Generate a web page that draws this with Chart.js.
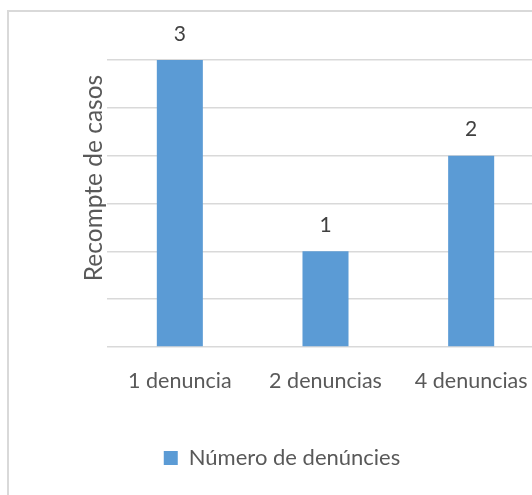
<!DOCTYPE html>
<html>
<head>
<meta charset="utf-8">
<script src="https://cdn.jsdelivr.net/npm/chart.js@4.4.0/dist/chart.umd.min.js"></script>
<style>
  html, body { margin: 0; padding: 0; background: #fff; overflow: hidden; }
  #frame { position: absolute; left: 7px; top: 10px; width: 600px; height: 600px; border: 2px solid #d9d9d9; }
  #cvs_bar { position: absolute; left: 0; top: 0; }
</style>
</head>
<body>
<div id="frame"></div>
<canvas id="cvs_bar" width="544" height="495"></canvas>
<script>
var categories = ["1 denuncia", "2 denuncias", "4 denuncias"];
var counts = [3, 1, 2];
var seriesName = "Número de denúncies";
var yTitle = "Recompte de casos";
var yMin = 0, yMax = 3, yStep = 0.5;

var textColor = '#595959';
var barColor = '#5b9bd5';
var gridColor = '#d9d9d9';
var fontFamily = 'Lato, "Open Sans", sans-serif';

Chart.defaults.font.family = fontFamily;
Chart.defaults.font.size = 21;
Chart.defaults.color = textColor;

// numbers above the bars
var valueLabels = {
    id: 'valueLabels',
    afterDatasetsDraw: function(chart) {
        var ctx = chart.ctx;
        var meta = chart.getDatasetMeta(0);
        ctx.save();
        ctx.font = '21px ' + fontFamily;
        ctx.fillStyle = '#404040';
        ctx.textAlign = 'center';
        ctx.textBaseline = 'middle';
        meta.data.forEach(function(bar, i) {
            ctx.fillText(chart.data.datasets[0].data[i], bar.x, bar.y - 26);
        });
        ctx.restore();
    }
};

// rotated axis title, placed like the original
var axisTitle = {
    id: 'axisTitle',
    afterDraw: function(chart) {
        var ctx = chart.ctx;
        ctx.save();
        ctx.translate(94, 178);
        ctx.rotate(-Math.PI / 2);
        ctx.font = '24.5px ' + fontFamily;
        ctx.fillStyle = textColor;
        ctx.textAlign = 'center';
        ctx.textBaseline = 'middle';
        ctx.fillText(yTitle, 0, 0);
        ctx.restore();
    }
};

var config = {
    type: 'bar',
    data: {
        labels: categories,
        datasets: [{
            label: seriesName,
            data: counts,
            backgroundColor: barColor,
            barPercentage: 1,
            categoryPercentage: 0.316
        }]
    },
    options: {
        responsive: false,
        animation: false,
        layout: {
            padding: { left: 20, top: 60, right: 0, bottom: 16 }
        },
        plugins: {
            legend: {
                position: 'bottom',
                labels: {
                    boxWidth: 14,
                    boxHeight: 14,
                    padding: 8,
                    color: textColor,
                    font: { size: 22 }
                }
            },
            tooltip: { enabled: false }
        },
        scales: {
            x: {
                grid: { display: false },
                border: { display: false },
                ticks: { color: textColor, padding: 13, maxRotation: 0, autoSkip: false, font: { size: 21.5 } },
                afterFit: function(scale) { scale.height = 92; }
            },
            y: {
                min: yMin,
                max: yMax,
                ticks: { display: false, stepSize: yStep },
                grid: { color: gridColor, lineWidth: 1.5, drawTicks: false },
                border: { display: false },
                afterFit: function(scale) { scale.width = 87; }
            }
        }
    },
    plugins: [valueLabels, axisTitle]
};

window.onload = function() {
    window.myBar = new Chart(document.getElementById("cvs_bar"), config);
};
</script>
</body>
</html>
